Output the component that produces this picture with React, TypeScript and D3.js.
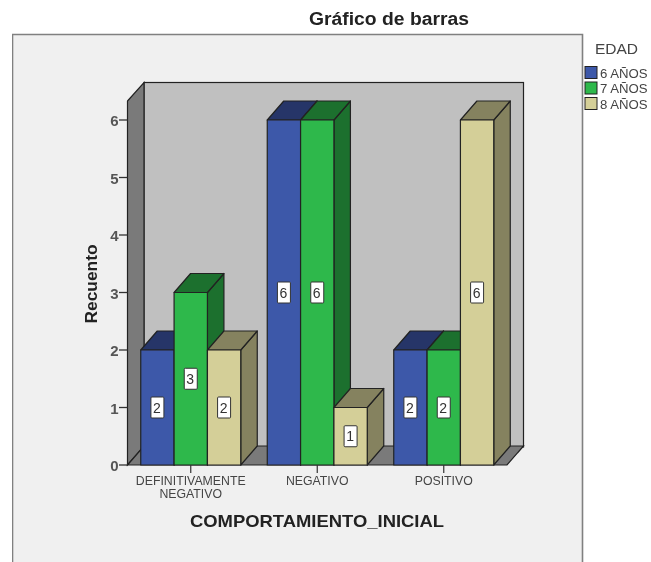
import React from "react";
import * as d3 from "d3";

const categories = ["DEFINITIVAMENTE NEGATIVO", "NEGATIVO", "POSITIVO"];
const categoryLines = [["DEFINITIVAMENTE", "NEGATIVO"], ["NEGATIVO"], ["POSITIVO"]];
const seriesNames = ["6 AÑOS", "7 AÑOS", "8 AÑOS"];
const values6 = [2, 6, 2];
const values7 = [3, 6, 2];
const values8 = [2, 1, 6];
const yTicks = [0, 1, 2, 3, 4, 5, 6];
const front = ["#3e59a9", "#2fb84b", "#d4cf98"];
const top = ["#253567", "#1c702e", "#85825f"];
const side = ["#253567", "#1c702e", "#85825f"];

const font = "'Liberation Sans', Arial, sans-serif";
const stroke = "#222";
const textCol = "#444";
const dx = 16.5;
const dy = 19;

export default function App() {
  const x = d3.scaleBand<string>().domain(categories).range([127.5, 507]);
  const y = d3.scaleLinear().domain([0, 6]).range([465, 120]);
  const inner = d3.scaleBand<string>().domain(seriesNames).range([0, 100]);
  const allValues = [values6, values7, values8];
  const baseY = y(0);
  const wallTop = y(6) - dy;
  const poly = (p: number[][]) => p.map((q) => q.join(",")).join(" ");
  const xL = x.range()[0];
  const xR = x.range()[1];
  return (
    <svg width={651} height={562} style={{ position: "absolute", left: 0, top: 0, background: "#fff" }}>
      <defs>
        <filter id="soft" x="0" y="0" width="100%" height="100%">
          <feGaussianBlur stdDeviation={0.35} />
        </filter>
      </defs>
      <g filter="url(#soft)">
        <path d="M12.5,562V34.5H582.5V562" fill="#f0f0f0" stroke="#808080" strokeWidth={1.6} />
        <text x={389} y={25} textAnchor="middle" fontFamily={font} fontWeight="bold" fontSize={18} textLength={160} lengthAdjust="spacingAndGlyphs" fill="#222">Gráfico de barras</text>

        {/* walls */}
        <rect x={xL + dx} y={wallTop - dy + 0.5} width={xR - xL} height={baseY - wallTop + 0.5} fill="#c0c0c0" stroke={stroke} strokeWidth={1.2} />
        <polygon points={poly([[xL, wallTop], [xL + dx, wallTop - dy + 0.5], [xL + dx, baseY - dy], [xL, baseY]])} fill="#7a7a7a" stroke={stroke} strokeWidth={1.2} />
        <polygon points={poly([[xL, baseY], [xL + dx, baseY - dy], [xR + dx, baseY - dy], [xR, baseY]])} fill="#7a7a7a" stroke={stroke} strokeWidth={1.2} />

        {/* bars */}
        {categories.map((c, ci) =>
          seriesNames.map((s, si) => {
            const v = allValues[si][ci];
            const groupX = x(c)! + x.bandwidth() / 2 - 50;
            const x0 = groupX + inner(s)!;
            const w = inner.bandwidth();
            const yv = y(v);
            return (
              <g key={c + s} stroke={stroke} strokeWidth={1.2} strokeLinejoin="round">
                <polygon points={poly([[x0 + w, yv], [x0 + w + dx, yv - dy], [x0 + w + dx, baseY - dy], [x0 + w, baseY]])} fill={side[si]} />
                <polygon points={poly([[x0, yv], [x0 + dx, yv - dy], [x0 + w + dx, yv - dy], [x0 + w, yv]])} fill={top[si]} />
                <rect x={x0} y={yv} width={w} height={baseY - yv} fill={front[si]} />
              </g>
            );
          })
        )}

        {/* value labels */}
        {categories.map((c, ci) =>
          seriesNames.map((s, si) => {
            const v = allValues[si][ci];
            const groupX = x(c)! + x.bandwidth() / 2 - 50;
            const cx = groupX + inner(s)! + inner.bandwidth() / 2;
            const cy = (y(v) + baseY) / 2;
            return (
              <g key={"l" + c + s}>
                <rect x={cx - 6.5} y={cy - 10.5} width={13} height={21} fill="#fff" stroke="#333" strokeWidth={1} rx={1} />
                <text x={cx - 0.5} y={cy + 5} textAnchor="middle" fontFamily={font} fontSize={14} fill="#333">{v}</text>
              </g>
            );
          })
        )}

        {/* y axis */}
        {yTicks.map((t) => (
          <g key={t}>
            <line x1={119} x2={xL} y1={y(t)} y2={y(t)} stroke="#333" strokeWidth={1.3} />
            <text x={118.5} y={y(t) + 6} textAnchor="end" fontFamily={font} fontWeight="bold" fontSize={15} fill="#555">{t}</text>
          </g>
        ))}

        {/* x axis */}
        {categories.map((c, ci) => {
          const cx = x(c)! + x.bandwidth() / 2;
          return (
            <g key={"t" + c}>
              <line x1={cx} x2={cx} y1={baseY} y2={baseY + 8} stroke="#333" strokeWidth={1.2} />
              {categoryLines[ci].map((ln, li) => (
                <text key={ln} x={cx} y={baseY + 20 + li * 13} textAnchor="middle" fontFamily={font} fontSize={12.3} fill={textCol}>{ln}</text>
              ))}
            </g>
          );
        })}

        <text x={317} y={527} textAnchor="middle" fontFamily={font} fontWeight="bold" fontSize={17} textLength={254} lengthAdjust="spacingAndGlyphs" fill="#222">COMPORTAMIENTO_INICIAL</text>
        <text transform="translate(96.5,284) rotate(-90)" textAnchor="middle" fontFamily={font} fontWeight="bold" fontSize={16.5} textLength={79} lengthAdjust="spacingAndGlyphs" fill="#222">Recuento</text>

        {/* legend */}
        <text x={595} y={54} fontFamily={font} fontSize={15.5} fill={textCol}>EDAD</text>
        {seriesNames.map((s, i) => (
          <g key={"lg" + s}>
            <rect x={585} y={66.5 + i * 15.5} width={12} height={12} fill={front[i]} stroke={stroke} strokeWidth={1} />
            <text x={600} y={77.5 + i * 15.5} fontFamily={font} fontSize={13.2} fill={textCol}>{s}</text>
          </g>
        ))}
      </g>
    </svg>
  );
}
